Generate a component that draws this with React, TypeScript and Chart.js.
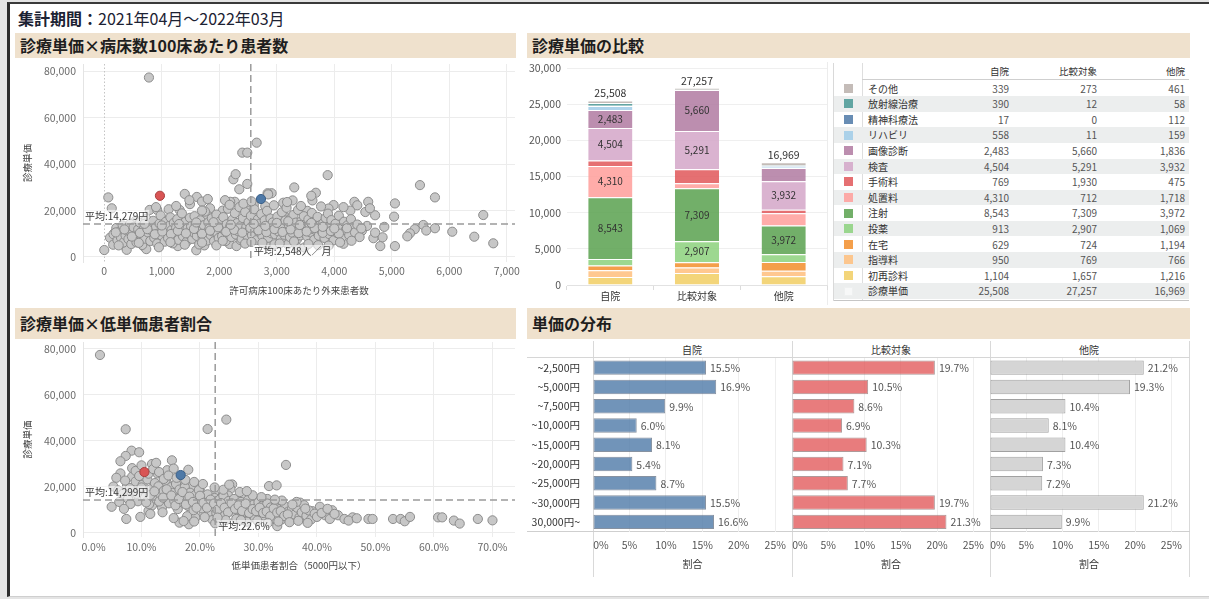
import React, { useEffect, useRef } from "react";
import { Chart, registerables } from "chart.js";

Chart.register(...registerables);

const FONT = '"Noto Sans CJK JP", "Noto Sans", sans-serif';

// ---------------- Scatter 1: 診療単価 × 病床数100床あたり外来患者数 ----------------
const outpatientMean = 2548;
const outpatientUnitMean = 14279;
const outpatientTicks = [0, 1000, 2000, 3000, 4000, 5000, 6000, 7000];
const unitPriceTicks = [0, 20000, 40000, 60000, 80000];
const outpatientOwn: [number, number][] = [[2725, 25000]];
const outpatientComparison: [number, number][] = [[968, 26400]];
const outpatientPoints: [number, number][] = [
  [777, 77400], [2400, 45000], [2487, 45000], [2650, 49300], [2245, 33500], [2285, 35700], [2487, 31500], [2348, 29200], [3304, 30000], [3885, 35300],
  [5490, 31000], [5751, 25700], [6591, 18100], [6765, 5900], [6435, 8750], [6052, 10900], [5751, 12400], [5548, 13800], [5600, 11400], [5400, 12000],
  [5315, 10200], [5270, 8900], [5055, 23100], [5040, 17400], [5055, 4700], [4870, 13000], [4800, 4700], [4840, 8500], [4680, 8100], [4710, 18000],
  [4540, 19400], [4590, 23800], [4350, 23800], [4280, 20000], [70, 25700], [130, 21000], [0, 3000],
  [4240, 11000], [3988, 22400], [3900, 20900], [3680, 27700], [3620, 24400], [3530, 19900], [3275, 24400], [3113, 23400], [3140, 17400], [2910, 27500],
  [2840, 27500], [2800, 21900], [2600, 22400], [2520, 20000], [2270, 23800], [2190, 23800], [2060, 20000], [1840, 21000], [1790, 18100], [1610, 25900],
  [1700, 23900], [1400, 27200], [1490, 22800], [1310, 20300], [1120, 20600], [1090, 15800], [790, 20300], [920, 20300], [550, 15700], [440, 12600],
  [240, 11800], [180, 10400], [100, 8300], [155, 5300], [360, 4700], [390, 3100], [680, 4700], [730, 3400], [1000, 7000], [1280, 4700],
  [1600, 2900], [1740, 5000], [2180, 5600], [2300, 4700], [2370, 7300], [2700, 8400], [2840, 4800], [2960, 5500], [3190, 5500], [3360, 4100],
  [3480, 4100], [3700, 8100], [3900, 7000], [4100, 8100], [4160, 5700], [4330, 9800], [4480, 11300], [4570, 13400], [4710, 10500],
  [160, 9800], [210, 12500], [230, 7200], [260, 10900], [290, 8400], [320, 13600], [330, 6200], [370, 9300], [400, 11400], [420, 7700],
  [450, 14300], [470, 5600], [490, 10200], [510, 12800], [540, 8600], [560, 6300], [590, 11900], [620, 14800], [640, 9400], [660, 5200],
  [690, 12300], [710, 7900], [730, 16500], [760, 10600], [780, 13800], [800, 6900], [830, 11200], [850, 15600], [870, 8300], [900, 12900],
  [920, 5800], [940, 10100], [960, 14400], [980, 17900], [1000, 9200], [1020, 12100], [1050, 6600], [1070, 15200], [1090, 10700], [1110, 8100],
  [1130, 13400], [1150, 17100], [1170, 11600], [1190, 5900], [1210, 14700], [1230, 9600], [1250, 12700], [1270, 16300], [1290, 7400], [1310, 10900],
  [1330, 13900], [1350, 18800], [1370, 8900], [1390, 11800], [1410, 15100], [1430, 6500], [1450, 12400], [1470, 9900], [1490, 16900], [1510, 13200],
  [1530, 7800], [1550, 10600], [1570, 17600], [1590, 14200], [1610, 9100], [1630, 12000], [1650, 5400], [1670, 15800], [1690, 11200], [1710, 8700],
  [1730, 13700], [1750, 19600], [1770, 10300], [1790, 7100], [1810, 14900], [1830, 12300], [1850, 9500], [1870, 16700], [1890, 11000], [1910, 6800],
  [1930, 13500], [1950, 18300], [1970, 10000], [1990, 8200], [2010, 15300], [2030, 12600], [2050, 9000], [2070, 17200], [2090, 11500], [2110, 6900],
  [2130, 14100], [2150, 20800], [2170, 10400], [2190, 13000], [2210, 8600], [2230, 16100], [2250, 12200], [2270, 18900], [2290, 9700], [2310, 14600],
  [2330, 11100], [2350, 21500], [2370, 13300], [2390, 7800], [2410, 16800], [2430, 10600], [2450, 19400], [2470, 12900], [2490, 8900], [2510, 15000],
  [2530, 11700], [2550, 17700], [2570, 9400], [2590, 13800], [2610, 20600], [2630, 12400], [2650, 7300], [2670, 16200], [2690, 10800], [2710, 14400],
  [2730, 18500], [2750, 9100], [2770, 12600], [2790, 15800], [2810, 11300], [2830, 19900], [2850, 8300], [2870, 13600], [2890, 16600], [2910, 10200],
  [2930, 14900], [2950, 22300], [2970, 9800], [2990, 12100], [3010, 17400], [3030, 11000], [3050, 14200], [3070, 7700], [3090, 19300], [3110, 12800],
  [3130, 9600], [3150, 15700], [3170, 21200], [3190, 11400], [3210, 13900], [3230, 8600], [3250, 16900], [3270, 10500], [3290, 18100], [3310, 12300],
  [3330, 14800], [3350, 7600], [3370, 20300], [3390, 11700], [3410, 9300], [3430, 15500], [3450, 13000], [3470, 17600], [3490, 10100], [3510, 12700],
  [3530, 8800], [3550, 16200], [3570, 14000], [3590, 10600], [3610, 19000], [3630, 12100], [3650, 7400], [3670, 15100], [3690, 11300], [3710, 17300],
  [3730, 9200], [3750, 13600], [3770, 21800], [3790, 10900], [3810, 14600], [3830, 8200], [3850, 16800], [3870, 12400], [3890, 18700], [3910, 9900],
  [3930, 13200], [3950, 15900], [3970, 11100], [3990, 7200], [4020, 14300], [4050, 10300], [4080, 17800], [4110, 12000], [4140, 8800], [4170, 15200],
  [4200, 11600], [4230, 13700], [4260, 9400], [4290, 16300], [4320, 12800], [4360, 10600], [4400, 14000], [4440, 8600], [4470, 12300],
  [200, 10600], [350, 11900], [480, 8800], [620, 10400], [750, 12000], [880, 9800], [1010, 11000], [1160, 9900], [1280, 11300], [1420, 10200],
  [1560, 12100], [1700, 10000], [1840, 11400], [1980, 12800], [2120, 10900], [2260, 11700], [2400, 10500], [2540, 12600], [2680, 11500], [2820, 10700],
  [2960, 12000], [3100, 10800], [3240, 11900], [3380, 10300], [3520, 11000], [3660, 12500], [3800, 10400], [3940, 11200], [4080, 10100], [4220, 12400],
  [2600, 14300], [2800, 13400], [3000, 14700], [3200, 15400], [2200, 13900], [1900, 15000], [1600, 14900], [1300, 14200], [1000, 13600], [700, 14300],
  [3400, 13800], [3600, 14700], [3800, 13000], [4000, 12300], [250, 5000], [600, 6100], [950, 4200], [1150, 6400], [1400, 5300], [1700, 6200],
  [1950, 5000], [2060, 7000], [2450, 5800], [2560, 6500], [2750, 6100], [3050, 5800], [3300, 6700], [3550, 5600], [3720, 5100], [3900, 4900],
  [4100, 6300], [4300, 7000], [1480, 24500], [1800, 25000], [2100, 24500], [2180, 22500], [2420, 23000], [2560, 24000], [2850, 27000], [3180, 23700],
  [3600, 26400], [3420, 22000], [4160, 21500], [4400, 22300], [1250, 22000], [900, 21500], [1700, 20000], [4620, 21000],
];

// ---------------- Scatter 2: 診療単価 × 低単価患者割合 ----------------
const lowShareMean = 22.6;
const lowShareUnitMean = 14299;
const lowShareTicks = [0, 10, 20, 30, 40, 50, 60, 70];
const lowShareOwn: [number, number][] = [[16.7, 25200]];
const lowShareComparison: [number, number][] = [[10.5, 26500]];
const lowSharePoints: [number, number][] = [
  [2.9, 77400], [7.3, 45100], [21.3, 45200], [24.5, 49300], [8.3, 35800], [9.6, 35100], [7.3, 33500], [6.4, 31200], [15.2, 31600], [11.8, 30000],
  [34.7, 29600], [6.4, 25900], [5.7, 24000], [31.8, 20400], [33.1, 20700], [25.5, 21100], [27.3, 16800], [4.9, 11400], [7.4, 6100], [9.8, 7000],
  [16.5, 4500], [18.1, 3800], [33.2, 3000], [46.1, 6800], [48.8, 6100], [49.5, 6100], [53.0, 6100], [54.3, 6100], [55.0, 5100], [55.9, 7000],
  [60.7, 6800], [61.4, 6800], [63.4, 5400], [64.4, 4100], [67.5, 6100], [70.0, 5500], [40.5, 11400], [42.6, 9900], [43.6, 7700], [44.7, 6100],
  [41.4, 7700], [39.2, 9500], [39.2, 6600], [37.7, 6600],
  [8.4, 24500], [9.5, 22900], [7.5, 20100], [12.7, 25900], [13.8, 24500], [14.4, 27300], [15.5, 28000], [14.4, 21600], [17.0, 21400], [18.5, 20300],
  [20.1, 17800], [22.4, 17000], [25.2, 19200], [24.8, 16300], [28.9, 15600], [31.5, 14800], [33.2, 12600], [34.7, 9600], [36.0, 11700], [37.1, 13200],
  [35.5, 8100], [34.1, 6800], [32.5, 7700], [31.5, 9600], [29.8, 8800], [28.3, 7200], [26.6, 9600], [25.2, 11700], [23.5, 10900], [22.1, 5900],
  [20.6, 8100], [19.2, 6700], [17.8, 7300], [16.1, 12000], [14.4, 14200], [12.7, 15100], [11.2, 9600], [11.8, 12000], [9.3, 15100], [8.7, 18000],
  [8.0, 19500], [8.6, 16200], [9.0, 22400], [9.4, 13800], [9.8, 18700], [10.2, 21000], [10.6, 15600], [11.0, 23300], [11.3, 12500], [11.7, 19200],
  [12.0, 17100], [12.3, 21700], [12.6, 14400], [12.9, 20300], [13.2, 16800], [13.5, 11200], [13.8, 18300], [14.1, 22600], [14.4, 15800], [14.7, 12900],
  [15.0, 19900], [15.3, 17400], [15.6, 14100], [15.9, 21300], [16.2, 10400], [16.5, 18900], [16.8, 16000], [17.1, 13200], [17.4, 20000], [17.7, 15400],
  [18.0, 11700], [18.3, 17500], [18.6, 14600], [18.9, 9900], [19.2, 16500], [19.5, 12800], [19.8, 18700], [20.1, 14000], [20.4, 10700], [20.7, 15900],
  [21.0, 12300], [21.3, 16800], [21.6, 9300], [21.9, 13600], [22.2, 11400], [22.5, 15200], [22.8, 8600], [23.1, 12700], [23.4, 14600], [23.7, 10200],
  [24.0, 16200], [24.3, 7900], [24.6, 12100], [24.9, 13900], [25.2, 9500], [25.5, 11500], [25.8, 14800], [26.1, 8400], [26.4, 12600], [26.7, 10300],
  [27.0, 13500], [27.3, 7300], [27.6, 11200], [27.9, 9100], [28.2, 14300], [28.5, 10600], [28.8, 8100], [29.1, 12200], [29.4, 6600], [29.7, 10900],
  [30.0, 13400], [30.3, 9000], [30.6, 11700], [30.9, 7600], [31.2, 10100], [31.5, 12800], [31.8, 8600], [32.1, 11100], [32.4, 6400], [32.7, 9700],
  [33.0, 12000], [33.3, 7900], [33.6, 10400], [33.9, 5800], [34.2, 8900], [34.5, 11600], [34.8, 7100], [35.1, 9300], [35.4, 6100], [35.7, 10300],
  [36.2, 8000], [36.6, 11000], [37.0, 6800], [37.4, 9000], [37.8, 12100], [38.2, 7500], [38.6, 9800], [39.0, 5900], [39.6, 8400], [40.0, 7000],
  [9.2, 17000], [10.0, 19800], [10.8, 13300], [11.5, 16500], [12.2, 18100], [13.0, 13700], [13.7, 15400], [14.3, 19000], [15.1, 16300], [15.8, 12000],
  [16.4, 14800], [17.0, 17800], [17.6, 12400], [18.2, 15800], [18.8, 13500], [19.4, 11000], [20.0, 16200], [20.6, 13100], [21.2, 11000], [21.8, 14500],
  [22.4, 12800], [23.0, 10100], [23.6, 13000], [24.2, 11000], [24.8, 9000], [25.4, 12900], [26.0, 10500], [26.6, 12000], [27.2, 9600], [27.8, 12800],
  [28.4, 8700], [29.0, 10400], [29.6, 9500], [30.2, 11000], [30.8, 8700], [31.4, 9300], [32.0, 7300], [32.6, 10700], [33.2, 8900], [33.8, 9500],
  [34.4, 7400], [35.0, 8100], [5.2, 20200], [6.0, 18500], [6.8, 17000], [7.2, 22800], [7.7, 14900], [8.1, 12600], [6.2, 13500], [7.0, 10500],
  [8.4, 28200], [9.0, 27000], [10.0, 29400], [11.2, 25800], [12.0, 27800], [13.0, 26500], [13.8, 23500], [14.6, 25000], [16.0, 24000], [17.5, 23100],
  [19.0, 22200], [18.0, 27500], [12.5, 30500], [9.6, 24800], [15.5, 6500], [17.2, 5200], [19.0, 5000], [20.8, 6900], [22.6, 4200], [24.4, 5600],
  [26.2, 6100], [28.0, 4900], [29.8, 5400], [31.6, 4400], [33.4, 5000], [35.3, 4700], [36.8, 5300], [38.4, 4400], [23.0, 6700], [27.0, 5600],
  [11.5, 8300], [13.6, 9000], [40.8, 8700], [41.8, 10500], [42.2, 6100], [45.4, 5400], [43.0, 8300], [46.8, 6400], [38.0, 10600], [36.5, 13500],
  [35.8, 12400], [34.0, 14100], [32.8, 14500], [30.5, 15600], [29.0, 16400], [26.8, 17800], [28.0, 18200], [24.0, 18800], [22.5, 19800], [20.5, 21300],
  [25.0, 21000],
];

// ---------------- Stacked bars + table: 診療単価の比較 ----------------
const hospitals = ["自院", "比較対象", "他院"];
const costCategories = ["初再診料", "指導料", "在宅", "投薬", "注射", "処置料", "手術料", "検査", "画像診断", "リハビリ", "精神科療法", "放射線治療", "その他"];
const costOwn = [1104, 950, 629, 913, 8543, 4310, 769, 4504, 2483, 558, 17, 390, 339];
const costComparison = [1657, 769, 724, 2907, 7309, 712, 1930, 5291, 5660, 11, 0, 12, 273];
const costOthers = [1216, 766, 1194, 1069, 3972, 1718, 475, 3932, 1836, 159, 112, 58, 461];
const unitPriceTotals = [25508, 27257, 16969];
const costYTicks = [0, 5000, 10000, 15000, 20000, 25000, 30000];

// ---------------- Horizontal bars: 単価の分布 ----------------
const priceBands = ["~2,500円", "~5,000円", "~7,500円", "~10,000円", "~15,000円", "~20,000円", "~25,000円", "~30,000円", "30,000円~"];
const shareOwn = [15.5, 16.9, 9.9, 6.0, 8.1, 5.4, 8.7, 15.5, 16.6];
const shareComparison = [19.7, 10.5, 8.6, 6.9, 10.3, 7.1, 7.7, 19.7, 21.3];
const shareOthers = [21.2, 19.3, 10.4, 8.1, 10.4, 7.3, 7.2, 21.2, 9.9];
const shareTicks = [0, 5, 10, 15, 20, 25];

// ---------------- styling ----------------
const categoryColors = ["#f1ce63", "#ffbe7d", "#f28e2b", "#8cd17d", "#59a14f", "#ff9d9a", "#e15759", "#d4a6c8", "#b07aa1", "#a0cbe8", "#4e79a7", "#499894", "#bab0ac"];
const alpha = (hex: string, a: number) => {
  const n = parseInt(hex.slice(1), 16);
  return `rgba(${(n >> 16) & 255},${(n >> 8) & 255},${n & 255},${a})`;
};
const fmt = (v: number) => v.toLocaleString("en-US");
const ENSP = "\u2002";
const setTicks = (values: number[]) => (s: any) => {
  s.ticks = values.map((value) => ({ value }));
};

const meanLinePlugin = {
  id: "meanLines",
  beforeDatasetsDraw(chart: any) {
    const o = chart.options.plugins.meanLines;
    if (!o || !o.zeroLine) return;
    const { ctx, chartArea: a } = chart;
    const zx = Math.round(chart.scales.x.getPixelForValue(0)) + 0.5;
    ctx.save();
    ctx.strokeStyle = "#c4c4c4";
    ctx.lineWidth = 1;
    ctx.setLineDash([1.5, 2]);
    ctx.beginPath();
    ctx.moveTo(zx, a.top);
    ctx.lineTo(zx, a.bottom);
    ctx.stroke();
    ctx.restore();
  },
  afterDatasetsDraw(chart: any) {
    const o = chart.options.plugins.meanLines;
    if (!o) return;
    const { ctx, chartArea: a } = chart;
    const mx = chart.scales.x.getPixelForValue(o.x);
    const my = chart.scales.y.getPixelForValue(o.y);
    ctx.save();
    ctx.strokeStyle = "#9b9b9b";
    ctx.lineWidth = 1.5;
    ctx.setLineDash([7, 4]);
    ctx.beginPath();
    ctx.moveTo(mx, a.top);
    ctx.lineTo(mx, a.bottom);
    ctx.moveTo(a.left, my);
    ctx.lineTo(a.right, my);
    ctx.stroke();
    ctx.setLineDash([]);
    ctx.font = `10px ${FONT}`;
    ctx.textBaseline = "middle";
    ctx.textAlign = "left";
    const label = (t: string, x: number, y: number) => {
      const w = ctx.measureText(t).width;
      ctx.fillStyle = "rgba(255,255,255,0.6)";
      ctx.fillRect(x - 1, y - 6.5, w + 2, 13);
      ctx.fillStyle = "#3a3a3a";
      ctx.fillText(t, x, y);
    };
    label(o.yLabel, a.left + 2, my - 7.5);
    label(o.xLabel, mx + 3, a.bottom - 10.5);
    ctx.restore();
  },
};

const stackLabelPlugin = {
  id: "stackLabels",
  afterDatasetsDraw(chart: any) {
    const { ctx } = chart;
    ctx.save();
    ctx.textAlign = "center";
    ctx.textBaseline = "middle";
    ctx.fillStyle = "#333";
    ctx.font = `10px ${FONT}`;
    chart.data.datasets.forEach((ds: any, di: number) => {
      const meta = chart.getDatasetMeta(di);
      meta.data.forEach((bar: any, i: number) => {
        const v = ds.data[i];
        if (v >= 2400) {
          const p = bar.getProps(["x", "y", "base"], true);
          ctx.fillText(fmt(v), p.x, (p.y + p.base) / 2);
        }
      });
    });
    const ys = chart.scales.y;
    const meta0 = chart.getDatasetMeta(0);
    ctx.font = `10.5px ${FONT}`;
    unitPriceTotals.forEach((t, i) => {
      const sum = chart.data.datasets.reduce((s: number, ds: any) => s + ds.data[i], 0);
      ctx.fillText(fmt(t), meta0.data[i].x, ys.getPixelForValue(sum) - 7);
    });
    ctx.restore();
  },
};

const barValuePlugin = {
  id: "barValues",
  afterDatasetsDraw(chart: any) {
    const { ctx } = chart;
    ctx.save();
    ctx.textAlign = "left";
    ctx.textBaseline = "middle";
    ctx.fillStyle = "#555";
    ctx.font = `10.5px ${FONT}`;
    const ds = chart.data.datasets[0];
    chart.getDatasetMeta(0).data.forEach((bar: any, i: number) => {
      const p = bar.getProps(["x", "y"], true);
      ctx.fillText(`${ds.data[i].toFixed(1)}%`, p.x + 4, p.y + 0.5);
    });
    ctx.restore();
  },
};

function scatterConfig(o: any) {
  const pt = (arr: [number, number][]) => arr.map(([x, y]) => ({ x, y }));
  const r = 4.6;
  return {
    type: "scatter",
    data: {
      datasets: [
        { data: pt(o.own), backgroundColor: "#4e79a7", borderColor: "#3a5f88", pointRadius: r, borderWidth: 1 },
        { data: pt(o.comp), backgroundColor: "#d95555", borderColor: "#a94040", pointRadius: r, borderWidth: 1 },
        { data: pt(o.points), backgroundColor: "#c7c7c7", borderColor: "#8c8c8c", pointRadius: r, borderWidth: 1 },
      ],
    },
    options: {
      responsive: false,
      animation: false,
      events: [],
      layout: { padding: { top: 8, right: 11, left: 0, bottom: 0 } },
      plugins: {
        legend: { display: false },
        tooltip: { enabled: false },
        meanLines: { x: o.meanX, y: o.meanY, xLabel: o.meanXLabel, yLabel: o.meanYLabel, zeroLine: o.zeroLine },
      },
      scales: {
        x: {
          type: "linear",
          min: o.xMin,
          max: o.xMax,
          afterBuildTicks: setTicks(o.xTicks),
          afterFit: (s: any) => { s.height = 43; s.paddingLeft = 0; s.paddingRight = 0; },
          grid: { color: (c: any) => (o.zeroLine && c.tick && c.tick.value === 0 ? "rgba(0,0,0,0)" : "#ececec"), drawTicks: false },
          border: { display: false },
          ticks: { padding: o.xTickPad, maxRotation: 0, autoSkip: false, font: { family: FONT, size: 10.5 }, color: "#6b6b6b", callback: o.xFmt },
          title: { display: true, text: o.xTitle, color: "#444", font: { family: FONT, size: 9.5 }, padding: { top: 0, bottom: o.xTitlePad } },
        },
        y: {
          type: "linear",
          min: o.yMin,
          max: o.yMax,
          afterBuildTicks: setTicks(unitPriceTicks),
          afterFit: (s: any) => { s.width = 68; s.paddingTop = 0; s.paddingBottom = 0; },
          grid: { color: "#ececec", drawTicks: false },
          border: { display: true, color: "#e4e4e4" },
          ticks: { padding: 7, autoSkip: false, font: { family: FONT, size: 10.5 }, color: "#6b6b6b", callback: (v: number) => fmt(v) },
          title: { display: true, text: "診療単価", color: "#444", font: { family: FONT, size: 9.5 }, padding: { top: 6.8, bottom: 0 } },
        },
      },
    },
    plugins: [meanLinePlugin],
  };
}

function stackedConfig() {
  const series = [costOwn, costComparison, costOthers];
  return {
    type: "bar",
    data: {
      labels: hospitals,
      datasets: costCategories.map((c, k) => ({
        label: c,
        data: series.map((s) => s[k]),
        backgroundColor: alpha(categoryColors[k], 0.85),
        borderColor: "rgba(255,255,255,0.95)",
        borderWidth: { top: 1, right: 0, bottom: 0, left: 0 },
        borderSkipped: "start",
        barPercentage: 0.51,
        categoryPercentage: 1,
      })),
    },
    options: {
      responsive: false,
      animation: false,
      events: [],
      layout: { padding: { top: 10, right: 3, left: 0, bottom: 0 } },
      plugins: { legend: { display: false }, tooltip: { enabled: false } },
      scales: {
        x: {
          stacked: true,
          afterFit: (s: any) => { s.height = 20; s.paddingLeft = 0; s.paddingRight = 0; },
          grid: { display: true, drawOnChartArea: false, drawTicks: true, tickLength: 5, color: "#dcdcdc", offset: true },
          border: { display: true, color: "#e2e2e2" },
          ticks: { padding: 0, font: { family: FONT, size: 10 }, color: "#333" },
        },
        y: {
          stacked: true,
          min: costYTicks[0],
          max: costYTicks[costYTicks.length - 1],
          afterBuildTicks: setTicks(costYTicks),
          afterFit: (s: any) => { s.width = 40; s.paddingTop = 0; s.paddingBottom = 0; },
          grid: { color: "#efefef", drawTicks: false },
          border: { display: false },
          ticks: { padding: 6, autoSkip: false, font: { family: FONT, size: 10.5 }, color: "#555", callback: (v: number) => fmt(v) },
        },
      },
    },
    plugins: [stackLabelPlugin],
  };
}

function distributionConfig(values: number[], color: string, border: string, showY: boolean) {
  return {
    type: "bar",
    data: {
      labels: priceBands,
      datasets: [{ data: values, backgroundColor: color, borderColor: border, borderWidth: 1, borderSkipped: false, barPercentage: 0.75, categoryPercentage: 1 }],
    },
    options: {
      indexAxis: "y",
      responsive: false,
      animation: false,
      events: [],
      layout: { padding: { top: 9, right: 1, left: showY ? 0 : 16, bottom: 0 } },
      plugins: { legend: { display: false }, tooltip: { enabled: false } },
      scales: {
        x: {
          min: 0,
          max: 27.3,
          afterBuildTicks: setTicks(shareTicks),
          afterFit: (s: any) => { s.height = 45.5; s.paddingLeft = 0; s.paddingRight = 0; },
          grid: { color: (c: any) => (c.tick && c.tick.value === 0 ? "rgba(0,0,0,0)" : "#eeeeee"), drawTicks: false },
          border: { display: false },
          ticks: {
            padding: 7.2,
            maxRotation: 0,
            autoSkip: false,
            font: { family: FONT, size: 10.5 },
            color: "#555",
            callback: (v: number) => (v === 0 ? `${ENSP}${ENSP}${ENSP}0%` : `${v}%`),
          },
          title: { display: true, text: "割合", color: "#333", font: { family: FONT, size: 10 }, padding: { top: 0, bottom: 6.3 } },
        },
        y: {
          display: showY,
          afterFit: (s: any) => { s.width = showY ? 66 : 0; s.paddingTop = 0; s.paddingBottom = 0; },
          grid: { display: false },
          border: { display: false },
          ticks: { padding: 5, font: { family: FONT, size: 10.5 }, color: "#333" },
        },
      },
    },
    plugins: [barValuePlugin],
  };
}

function ChartCanvas({ left, top, width, height, make }: any) {
  const ref = useRef<HTMLCanvasElement | null>(null);
  useEffect(() => {
    const chart = new Chart(ref.current as HTMLCanvasElement, make() as any);
    return () => chart.destroy();
  }, []);
  return <canvas ref={ref} width={width} height={height} style={{ position: "absolute", left, top, width, height }} />;
}

const abs = (left: number, top: number, width: number, height: number, extra: any = {}) => ({ position: "absolute" as const, left, top, width, height, ...extra });

function SectionHeader({ left, top, width, height, text }: any) {
  return (
    <div style={abs(left, top, width, height, { background: "#efe1cd", fontFamily: FONT, fontWeight: 700, fontSize: 16, lineHeight: `${height}px`, color: "#1e1e1e", paddingLeft: 5, boxSizing: "border-box", whiteSpace: "nowrap" })}>
      {text}
    </div>
  );
}

function CostTable() {
  const rows = costCategories
    .map((name, k) => ({ name, color: alpha(categoryColors[k], 0.85), vals: [costOwn[k], costComparison[k], costOthers[k]] }))
    .reverse();
  rows.push({ name: "診療単価", color: "#f7f8f8", vals: unitPriceTotals });
  const rowTop = 80.5;
  const rowH = 15.6;
  const valRight = [1009, 1097, 1185];
  const cell = { fontFamily: FONT, fontSize: 10, whiteSpace: "nowrap" as const };
  return (
    <>
      <div style={abs(833, 63, 1, 238, { background: "#d9d9d9" })} />
      <div style={abs(862, 63, 1, 238, { background: "#dedede" })} />
      {hospitals.map((h, j) => (
        <div key={h} style={abs(valRight[j] - 80, 64, 80, 15, { ...cell, fontSize: 9.5, color: "#333", textAlign: "right", lineHeight: "15px" })}>{h}</div>
      ))}
      <div style={abs(862, 79, 327, 1, { background: "#cfcfcf" })} />
      {rows.map((r, i) => (
        <div key={r.name} style={abs(834, rowTop + i * rowH, 355, rowH, { background: i % 2 === 1 ? "#eceeee" : "transparent" })}>
          <div style={abs(9.5, (rowH - 9) / 2, 9, 9, { background: r.color, border: r.name === "診療単価" ? "1px solid #eef0f0" : "none", boxSizing: "border-box" })} />
          <div style={abs(34, 0, 120, rowH, { ...cell, color: "#333", lineHeight: `${rowH}px` })}>{r.name}</div>
          {r.vals.map((v, j) => (
            <div key={j} style={abs(valRight[j] - 834 - 80, 0, 80, rowH, { ...cell, color: "#555", textAlign: "right", lineHeight: `${rowH}px` })}>{fmt(v)}</div>
          ))}
        </div>
      ))}
      <div style={abs(834, 300, 355, 1, { background: "#c6c6c6" })} />
    </>
  );
}

export default function App() {
  return (
    <div style={abs(0, 0, 1209, 599, { background: "#e4e4e4", overflow: "hidden" })}>
      <style>{"body{margin:0;}"}</style>
      <div style={abs(7, 2, 1202, 595, { background: "#fff", borderLeft: "3px solid #2c2c2c", borderTop: "2px solid #3a3a3a", borderBottom: "1px solid #cfcfcf", boxSizing: "border-box" })} />
      <div style={abs(18, 8, 400, 21, { fontFamily: FONT, fontSize: 16, lineHeight: "21px", color: "#1c2233", whiteSpace: "nowrap" })}>
        <span style={{ fontWeight: 700 }}>集計期間：</span>
        <span>2021年04月～2022年03月</span>
      </div>

      <SectionHeader left={15} top={33} width={501} height={25} text="診療単価×病床数100床あたり患者数" />
      <SectionHeader left={527} top={33} width={663} height={25} text="診療単価の比較" />
      <SectionHeader left={15} top={308} width={501} height={31} text="診療単価×低単価患者割合" />
      <SectionHeader left={527} top={308} width={663} height={31} text="単価の分布" />

      <ChartCanvas
        left={15}
        top={56}
        width={511}
        height={249}
        make={() =>
          scatterConfig({
            points: outpatientPoints,
            own: outpatientOwn,
            comp: outpatientComparison,
            xMin: -370,
            xMax: 7143,
            xTicks: outpatientTicks,
            xFmt: (v: number) => fmt(v),
            yMin: -2160,
            yMax: 83230,
            xTitle: "許可病床100床あたり外来患者数",
            meanX: outpatientMean,
            meanY: outpatientUnitMean,
            meanXLabel: `平均:${fmt(outpatientMean)}人／月`,
            meanYLabel: `平均:${fmt(outpatientUnitMean)}円`,
            xTickPad: 2.4,
            xTitlePad: 8.6,
            zeroLine: true,
          })
        }
      />

      <ChartCanvas
        left={15}
        top={334}
        width={511}
        height={246}
        make={() =>
          scatterConfig({
            points: lowSharePoints,
            own: lowShareOwn,
            comp: lowShareComparison,
            xMin: 0,
            xMax: 73.85,
            xTicks: lowShareTicks,
            xFmt: (v: number) => (v === 0 ? `${ENSP}${ENSP}${ENSP}${ENSP}0.0%` : `${v.toFixed(1)}%`),
            yMin: -1740,
            yMax: 83040,
            xTitle: "低単価患者割合（5000円以下）",
            meanX: lowShareMean,
            meanY: lowShareUnitMean,
            meanXLabel: `平均:${lowShareMean.toFixed(1)}%`,
            meanYLabel: `平均:${fmt(lowShareUnitMean)}円`,
            xTickPad: 3.7,
            xTitlePad: 9.3,
            zeroLine: false,
          })
        }
      />

      <div style={abs(827, 62, 1, 243, { background: "#ececec" })} />
      <ChartCanvas left={527} top={58} width={303} height={247} make={stackedConfig} />
      <CostTable />

      {[593, 792, 990, 1189].map((x) => (
        <div key={x} style={abs(x, 341, 1, 236, { background: "#d9d9d9" })} />
      ))}
      <div style={abs(527, 357, 663, 1, { background: "#d6d6d6" })} />
      <div style={abs(527, 531, 663, 1, { background: "#cfcfcf" })} />
      {hospitals.map((h, j) => (
        <div key={h} style={abs([593, 792, 990][j], 343, 198, 14, { fontFamily: FONT, fontSize: 10, color: "#333", textAlign: "center", lineHeight: "14px" })}>{h}</div>
      ))}
      <ChartCanvas left={527} top={349} width={266} height={228} make={() => distributionConfig(shareOwn, alpha("#4e79a7", 0.8), "rgba(95,110,130,0.75)", true)} />
      <ChartCanvas left={776} top={349} width={215} height={228} make={() => distributionConfig(shareComparison, alpha("#e15759", 0.78), "rgba(140,110,110,0.7)", false)} />
      <ChartCanvas left={974} top={349} width={215} height={228} make={() => distributionConfig(shareOthers, "#d5d5d5", "rgba(130,130,130,0.75)", false)} />
    </div>
  );
}
